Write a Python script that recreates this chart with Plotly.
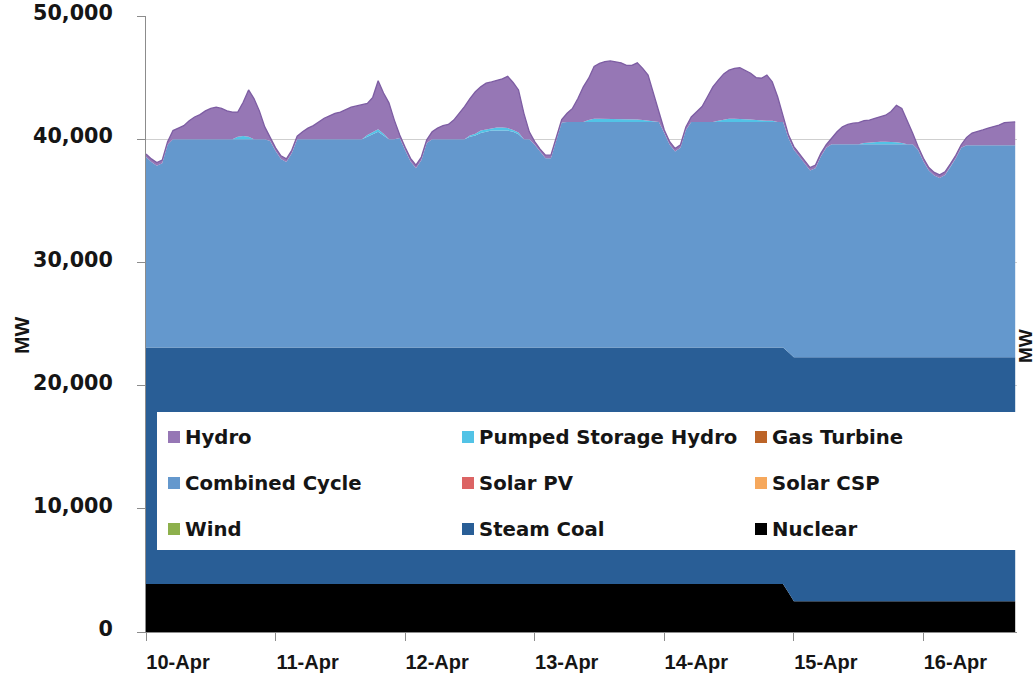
import pandas as pd
import plotly.graph_objects as go

# ---------------- data (MW, hourly from 10-Apr 00:00) ----------------
START = "2014-04-10 00:00"
N_HOURS = 162

NUCLEAR = (
    [3900, 3900, 3900, 3900, 3900, 3900, 3900, 3900, 3900, 3900, 3900, 3900, 3900, 3900, 3900, 3900, 3900, 3900, 3900, 3900, 3900, 3900, 3900, 3900]  # 10-Apr
    + [3900, 3900, 3900, 3900, 3900, 3900, 3900, 3900, 3900, 3900, 3900, 3900, 3900, 3900, 3900, 3900, 3900, 3900, 3900, 3900, 3900, 3900, 3900, 3900]  # 11-Apr
    + [3900, 3900, 3900, 3900, 3900, 3900, 3900, 3900, 3900, 3900, 3900, 3900, 3900, 3900, 3900, 3900, 3900, 3900, 3900, 3900, 3900, 3900, 3900, 3900]  # 12-Apr
    + [3900, 3900, 3900, 3900, 3900, 3900, 3900, 3900, 3900, 3900, 3900, 3900, 3900, 3900, 3900, 3900, 3900, 3900, 3900, 3900, 3900, 3900, 3900, 3900]  # 13-Apr
    + [3900, 3900, 3900, 3900, 3900, 3900, 3900, 3900, 3900, 3900, 3900, 3900, 3900, 3900, 3900, 3900, 3900, 3900, 3900, 3900, 3900, 3900, 3900, 3200]  # 14-Apr
    + [2500, 2500, 2500, 2500, 2500, 2500, 2500, 2500, 2500, 2500, 2500, 2500, 2500, 2500, 2500, 2500, 2500, 2500, 2500, 2500, 2500, 2500, 2500, 2500]  # 15-Apr
    + [2500, 2500, 2500, 2500, 2500, 2500, 2500, 2500, 2500, 2500, 2500, 2500, 2500, 2500, 2500, 2500, 2500, 2500]  # 16-Apr
)

STEAM_COAL = (
    [19200, 19200, 19200, 19200, 19200, 19200, 19200, 19200, 19200, 19200, 19200, 19200, 19200, 19200, 19200, 19200, 19200, 19200, 19200, 19200, 19200, 19200, 19200, 19200]
    + [19200, 19200, 19200, 19200, 19200, 19200, 19200, 19200, 19200, 19200, 19200, 19200, 19200, 19200, 19200, 19200, 19200, 19200, 19200, 19200, 19200, 19200, 19200, 19200]
    + [19200, 19200, 19200, 19200, 19200, 19200, 19200, 19200, 19200, 19200, 19200, 19200, 19200, 19200, 19200, 19200, 19200, 19200, 19200, 19200, 19200, 19200, 19200, 19200]
    + [19200, 19200, 19200, 19200, 19200, 19200, 19200, 19200, 19200, 19200, 19200, 19200, 19200, 19200, 19200, 19200, 19200, 19200, 19200, 19200, 19200, 19200, 19200, 19200]
    + [19200, 19200, 19200, 19200, 19200, 19200, 19200, 19200, 19200, 19200, 19200, 19200, 19200, 19200, 19200, 19200, 19200, 19200, 19200, 19200, 19200, 19200, 19200, 19500]
    + [19800, 19800, 19800, 19800, 19800, 19800, 19800, 19800, 19800, 19800, 19800, 19800, 19800, 19800, 19800, 19800, 19800, 19800, 19800, 19800, 19800, 19800, 19800, 19800]
    + [19800, 19800, 19800, 19800, 19800, 19800, 19800, 19800, 19800, 19800, 19800, 19800, 19800, 19800, 19800, 19800, 19800, 19800]
)

COMBINED_CYCLE = (
    [15450, 15050, 14750, 14950, 16450, 16900, 16900, 16900, 16900, 16900, 16900, 16900, 16900, 16900, 16900, 16900, 16900, 16900, 16900, 16900, 16900, 16900, 16900, 16750]
    + [15950, 15300, 15050, 15750, 16900, 16900, 16900, 16900, 16900, 16900, 16900, 16900, 16900, 16900, 16900, 16900, 16900, 17100, 17300, 17500, 17200, 16900, 16900, 17000]
    + [16000, 15100, 14550, 15200, 16600, 16900, 16900, 16900, 16900, 16900, 16900, 16900, 17100, 17200, 17400, 17500, 17600, 17600, 17600, 17600, 17500, 17300, 16900, 16900]
    + [16450, 15850, 15350, 15350, 16850, 18250, 18300, 18300, 18300, 18300, 18300, 18300, 18300, 18300, 18300, 18300, 18300, 18300, 18300, 18300, 18300, 18300, 18300, 18300]
    + [17400, 16450, 15900, 16200, 17650, 18300, 18300, 18300, 18300, 18300, 18300, 18300, 18300, 18300, 18300, 18300, 18300, 18300, 18300, 18300, 18300, 18300, 18300, 17400]
    + [16850, 16300, 15750, 15150, 15350, 16300, 17000, 17300, 17300, 17300, 17300, 17300, 17300, 17300, 17300, 17300, 17300, 17300, 17300, 17300, 17300, 17300, 17300, 16850]
    + [15900, 15150, 14750, 14550, 14800, 15450, 16150, 17000, 17200, 17200, 17200, 17200, 17200, 17200, 17200, 17200, 17200, 17200]
)

PUMPED_STORAGE = (
    [0, 0, 0, 0, 0, 0, 0, 0, 0, 0, 0, 0, 0, 0, 0, 0, 0, 200, 250, 200, 0, 0, 0, 0]
    + [0, 0, 0, 0, 0, 0, 0, 0, 0, 0, 0, 0, 0, 0, 0, 0, 0, 150, 200, 200, 150, 0, 0, 0]
    + [0, 0, 0, 0, 0, 0, 0, 0, 0, 0, 0, 0, 100, 150, 200, 200, 200, 250, 250, 200, 150, 150, 0, 0]
    + [0, 0, 0, 0, 0, 0, 0, 0, 0, 0, 150, 250, 250, 250, 250, 250, 250, 250, 250, 200, 150, 100, 0, 0]
    + [0, 0, 0, 0, 0, 0, 0, 0, 0, 0, 100, 200, 250, 250, 250, 250, 200, 150, 100, 100, 100, 0, 0, 0]
    + [0, 0, 0, 0, 0, 0, 0, 0, 0, 0, 0, 0, 0, 100, 150, 200, 200, 200, 200, 150, 100, 0, 0, 0]
    + [0, 0, 0, 0, 0, 0, 0, 0, 0, 0, 0, 0, 0, 0, 0, 0, 0, 0]
)

HYDRO = (
    [250, 250, 250, 250, 250, 700, 900, 1100, 1500, 1800, 2000, 2300, 2500, 2600, 2500, 2300, 2200, 2000, 2750, 3800, 3300, 2300, 1000, 250]
    + [250, 250, 250, 250, 250, 600, 900, 1100, 1400, 1700, 1900, 2100, 2200, 2400, 2600, 2700, 2800, 2550, 2800, 3950, 3300, 2950, 1550, 250]
    + [250, 250, 250, 250, 250, 600, 900, 1100, 1200, 1550, 2100, 2650, 3000, 3400, 3550, 3750, 3750, 3800, 3950, 4200, 3850, 3450, 2100, 600]
    + [250, 250, 250, 250, 250, 250, 700, 1100, 1900, 2850, 3400, 4250, 4500, 4650, 4700, 4650, 4550, 4350, 4350, 4600, 4200, 3700, 2300, 700]
    + [250, 250, 250, 250, 250, 400, 850, 1250, 2050, 2850, 3300, 3700, 3950, 4100, 4150, 3950, 3750, 3450, 3450, 3700, 3150, 2050, 400, 250]
    + [250, 250, 250, 250, 250, 250, 250, 450, 1000, 1400, 1600, 1700, 1750, 1800, 1800, 1900, 2000, 2150, 2450, 3000, 2800, 1950, 900, 250]
    + [250, 250, 250, 250, 250, 250, 250, 250, 650, 1000, 1100, 1250, 1400, 1500, 1650, 1850, 1900, 1900]
)

GAS_TURBINE = [0] * N_HOURS
SOLAR_PV = [0] * N_HOURS
SOLAR_CSP = [0] * N_HOURS
WIND = [0] * N_HOURS

Y_TICKS = [0, 10000, 20000, 30000, 40000, 50000]

# Legend entries, row-major (3 columns x 3 rows)
LEGEND_NAMES = ["Hydro", "Pumped Storage Hydro", "Gas Turbine",
                "Combined Cycle", "Solar PV", "Solar CSP",
                "Wind", "Steam Coal", "Nuclear"]

COLORS = {
    "Hydro": "#9677B5",
    "Pumped Storage Hydro": "#52C3E6",
    "Gas Turbine": "#BC6428",
    "Combined Cycle": "#6498CD",
    "Solar PV": "#DC6464",
    "Solar CSP": "#F6A85C",
    "Wind": "#8DB04C",
    "Steam Coal": "#295E96",
    "Nuclear": "#000000",
}

# ---------------- figure ----------------
W, H = 1036, 685
PLOT_L, PLOT_T, PLOT_R, PLOT_B = 146, 16, 1017, 632   # pixel box of the plot area
ML, MT, MR, MB = PLOT_L, PLOT_T, W - PLOT_R, H - PLOT_B
PW, PH = PLOT_R - PLOT_L, PLOT_B - PLOT_T

x = pd.date_range(START, periods=N_HOURS, freq="h")

stack = [
    ("Nuclear", NUCLEAR),
    ("Steam Coal", STEAM_COAL),
    ("Wind", WIND),
    ("Solar CSP", SOLAR_CSP),
    ("Solar PV", SOLAR_PV),
    ("Combined Cycle", COMBINED_CYCLE),
    ("Gas Turbine", GAS_TURBINE),
    ("Pumped Storage Hydro", PUMPED_STORAGE),
    ("Hydro", HYDRO),
]

fig = go.Figure()
for name, vals in stack:
    if name == "Hydro":
        line = dict(width=1.3, color="#7D5DA3")
    else:
        line = dict(width=0, color=COLORS[name])
    fig.add_trace(go.Scatter(
        x=x, y=vals, name=name, mode="lines", stackgroup="one",
        fillcolor=COLORS[name], line=line, showlegend=False,
    ))


def px_x(px):
    return (px - PLOT_L) / PW


def px_y(py):
    return (PLOT_B - py) / PH


shapes = []
annotations = []

# legend box
shapes.append(dict(type="rect", xref="paper", yref="paper", layer="above",
                   x0=px_x(157), x1=1.0, y0=px_y(550), y1=px_y(412),
                   fillcolor="white", line=dict(width=0)))

col_left = [168, 462, 755]
row_top = [431, 477, 523]
for i, name in enumerate(LEGEND_NAMES):
    r, c = divmod(i, 3)
    x0, y0 = col_left[c], row_top[r]
    shapes.append(dict(type="rect", xref="paper", yref="paper", layer="above",
                       x0=px_x(x0), x1=px_x(x0 + 12), y0=px_y(y0 + 12), y1=px_y(y0),
                       fillcolor=COLORS[name], line=dict(width=0)))
    annotations.append(dict(xref="paper", yref="paper", x=px_x(x0 + 15), y=px_y(y0 + 6),
                            xanchor="left", yanchor="middle", showarrow=False,
                            text="<b>" + name + "</b>",
                            font=dict(family="DejaVu Sans", size=19.7, color="#151515")))

# axis titles
annotations.append(dict(xref="paper", yref="paper", x=px_x(22), y=px_y(335),
                        xanchor="center", yanchor="middle", showarrow=False,
                        text="<b>MW</b>", textangle=-90,
                        font=dict(family="Liberation Sans", size=21, color="#151515")))
annotations.append(dict(xref="paper", yref="paper", x=px_x(1025), y=px_y(346),
                        xanchor="center", yanchor="middle", showarrow=False,
                        text="<b>MW</b>", textangle=-90,
                        font=dict(family="Liberation Sans", size=19, color="#151515")))

fig.update_layout(
    width=W, height=H,
    margin=dict(l=ML, r=MR, t=MT, b=MB, pad=0, autoexpand=False),
    paper_bgcolor="white", plot_bgcolor="white",
    showlegend=False,
    shapes=shapes, annotations=annotations,
)

fig.update_xaxes(
    type="date", automargin=False,
    range=["2014-04-10 00:00", "2014-04-16 17:20"],
    tick0="2014-04-10", dtick=86400000, tickformat="%d-%b",
    ticks="outside", ticklen=8, tickcolor="#8c8c8c", tickwidth=1,
    showline=True, linecolor="#8c8c8c", linewidth=1,
    showgrid=False, zeroline=False,
    ticklabelshift=32, ticklabelstandoff=4, ticklabeloverflow="allow",
    tickfont=dict(family="Liberation Sans", size=20, color="#151515", weight="bold"),
)

fig.update_yaxes(
    automargin=False,
    range=[0, 50000], tickvals=Y_TICKS, tickformat=",d",
    ticks="outside", ticklen=8, tickcolor="#8c8c8c", tickwidth=1,
    showline=True, linecolor="#8c8c8c", linewidth=1,
    showgrid=True, gridcolor="#cfcfcf", gridwidth=1, zeroline=False,
    ticklabelstandoff=20, ticklabelshift=-3, ticklabeloverflow="allow",
    tickfont=dict(family="DejaVu Sans", size=20.7, color="#151515", weight="bold"),
)

fig.write_html("out.html", config={"displayModeBar": False},
               post_script="document.body.style.margin='0';")
